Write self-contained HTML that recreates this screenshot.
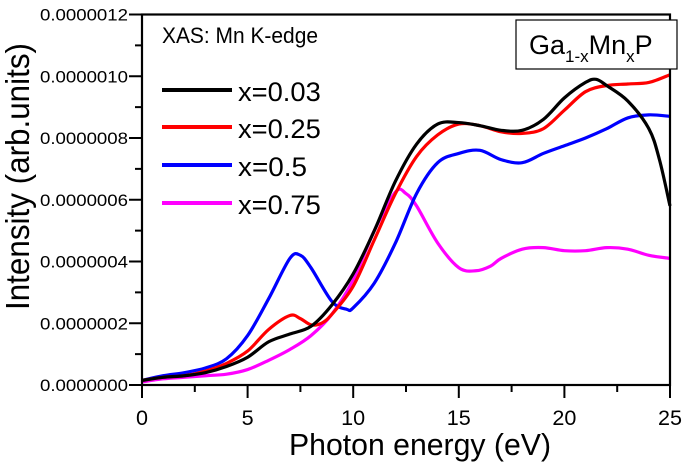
<!DOCTYPE html>
<html><head><meta charset="utf-8"><style>
html,body{margin:0;padding:0;background:#fff}
svg{display:block;font-family:"Liberation Sans",Arial,sans-serif}
</style></head><body>
<svg id="chart" width="685" height="467" viewBox="0 0 685 467">
<g id="axes"></g>
<g id="series"></g>
<rect x="142" y="14.5" width="528" height="370.5" fill="none" stroke="#000" stroke-width="2.2"/>
<text x="162" y="43" font-size="22" textLength="156" lengthAdjust="spacingAndGlyphs">XAS: Mn K-edge</text>
<g>
<rect x="516" y="20" width="161" height="49" fill="#fff" stroke="#000" stroke-width="1.2"/>
<text x="529" y="54" font-size="27">Ga<tspan font-size="17" dy="8">1-x</tspan><tspan dy="-8">Mn</tspan><tspan font-size="17" dy="8">x</tspan><tspan dy="-8">P</tspan></text>
</g>
<g id="legend"></g>
<text x="289" y="455" font-size="31" textLength="262" lengthAdjust="spacingAndGlyphs">Photon energy (eV)</text>
<text transform="translate(29,310) rotate(-90)" font-size="33" textLength="267" lengthAdjust="spacingAndGlyphs">Intensity (arb.units)</text>
</svg>
<script>
const seriesNames=["x=0.03","x=0.25","x=0.5","x=0.75"];
const seriesColors=["#000000","#ff0000","#0000ff","#ff00ff"];
const xTicks=[0,5,10,15,20,25];
const yTicks=[0,2,4,6,8,10,12];
const yTickLabels=["0.0000000","0.0000002","0.0000004","0.0000006","0.0000008","0.0000010","0.0000012"];
const xBlack=[0,1,2,3,4,5,6,7,8,9,10,11,12,13,14,15,16,17,18,19,20,21,21.5,22,23,24,24.5,25];
const yBlack=[0.15,0.25,0.3,0.4,0.6,0.9,1.4,1.65,1.9,2.6,3.6,5.0,6.6,7.8,8.45,8.5,8.4,8.25,8.25,8.6,9.3,9.8,9.9,9.7,9.2,8.3,7.3,5.8];
const xRed=[0,1,2,3,4,5,6,7,7.5,8,8.5,9,10,11,12,13,14,15,16,17,18,19,20,21,22,23,24,25];
const yRed=[0.15,0.25,0.3,0.45,0.7,1.1,1.8,2.25,2.15,1.95,2.0,2.3,3.2,4.7,6.2,7.4,8.1,8.45,8.4,8.2,8.15,8.3,8.9,9.5,9.7,9.75,9.8,10.05];
const xBlue=[0,1,2,3,4,5,6,7,7.5,8,9,9.7,10,11,12,13,14,15,16,17,18,19,20,21,22,23,24,25];
const yBlue=[0.15,0.3,0.4,0.55,0.85,1.6,2.8,4.1,4.2,3.8,2.7,2.45,2.5,3.3,4.6,6.2,7.2,7.5,7.6,7.3,7.2,7.5,7.75,8.0,8.3,8.65,8.75,8.7];
const xMag=[0,1,2,3,4,5,6,7,8,9,10,11,12,12.5,13,14,15,15.8,16.5,17,18,19,20,21,22,23,24,25];
const yMag=[0.1,0.2,0.25,0.3,0.35,0.5,0.8,1.15,1.6,2.3,3.4,5.0,6.25,6.2,5.8,4.6,3.8,3.7,3.85,4.1,4.4,4.45,4.35,4.35,4.45,4.4,4.2,4.1];
const allX=[xBlack,xRed,xBlue,xMag], allY=[yBlack,yRed,yBlue,yMag];
const NS="http://www.w3.org/2000/svg";
const X0=142,X1=670,Y0=385,Y1=14.5;
const sx=v=>X0+(v/25)*(X1-X0);
const sy=v=>Y0-(v/12)*(Y0-Y1);
function mk(t,a){const e=document.createElementNS(NS,t);for(const k in a)e.setAttribute(k,a[k]);return e;}
const axes=document.getElementById('axes');
for(let v=0;v<=25;v+=2.5){
  const major=v%5===0;
  const t=mk('line',{x1:sx(v),x2:sx(v),y1:Y0,y2:Y0+(major?13:7),stroke:'#000','stroke-width':2});
  
  
  axes.appendChild(t);
}
for(let v=0;v<=12;v+=1){
  const major=v%2===0;
  const t=mk('line',{x1:X0-(major?13:7),x2:X0,y1:sy(v),y2:sy(v),stroke:'#000','stroke-width':2});
  
  
  axes.appendChild(t);
}
xTicks.forEach(v=>{
  const s=String(v);
  const w=s.length*12;
  const t=mk('text',{x:sx(v)-w/2,y:425,'font-size':21,textLength:w,lengthAdjust:'spacingAndGlyphs'});
  
  
  t.textContent=s;axes.appendChild(t);
});
yTicks.forEach((v,i)=>{
  const t=mk('text',{x:40,y:sy(v)+6,'font-size':16.5,textLength:88,lengthAdjust:'spacingAndGlyphs'});
  
  
  t.textContent=yTickLabels[i];axes.appendChild(t);
});
function smooth(xs,ys){
  const p=xs.map((x,i)=>[sx(x),sy(ys[i])]);
  let d='M'+p[0][0]+','+p[0][1];
  for(let i=0;i<p.length-1;i++){
    const a=p[Math.max(0,i-1)],b=p[i],c=p[i+1],e=p[Math.min(p.length-1,i+2)];
    const c1=[b[0]+(c[0]-a[0])/6,b[1]+(c[1]-a[1])/6];
    const c2=[c[0]-(e[0]-b[0])/6,c[1]-(e[1]-b[1])/6];
    d+=' C'+c1+' '+c2+' '+c;
  }
  return d;
}
const sg=document.getElementById('series'), lg=document.getElementById('legend');
const legY=[90,127,165,203];
[3,2,1,0].forEach(i=>{
  const p=mk('path',{d:smooth(allX[i],allY[i]),fill:'none',stroke:seriesColors[i],'stroke-width':3.2,'stroke-linejoin':'round'});
  
  
  sg.appendChild(p);
});
seriesNames.forEach((n,i)=>{
  const g=mk('g',{});
  
  
  g.appendChild(mk('line',{x1:162,x2:232,y1:legY[i],y2:legY[i],stroke:seriesColors[i],'stroke-width':4}));
  const t=mk('text',{x:238,y:legY[i]+11,'font-size':27,textLength:n.length*13.8,lengthAdjust:'spacingAndGlyphs'});
  t.textContent=n;g.appendChild(t);
  lg.appendChild(g);
});
</script>
</body></html>
